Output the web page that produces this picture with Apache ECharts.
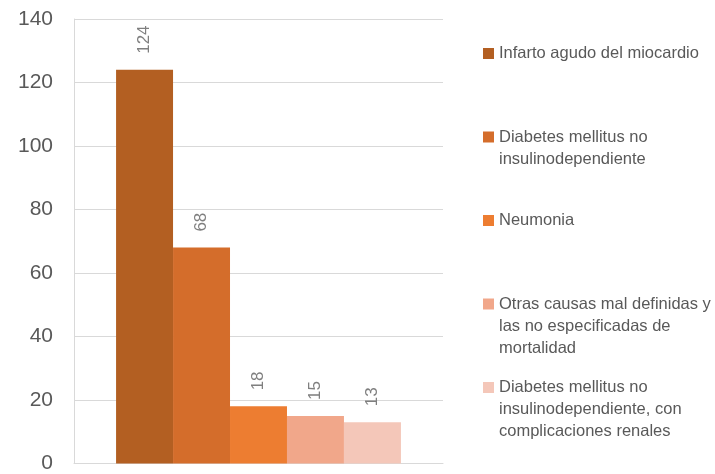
<!DOCTYPE html>
<html>
<head>
<meta charset="utf-8">
<script src="https://cdn.jsdelivr.net/npm/echarts@6/dist/echarts.min.js"></script>
<style>
  html, body { margin: 0; padding: 0; background: #fff; }
  #chart { width: 715px; height: 474px; }
</style>
</head>
<body>
<div id="chart"></div>
<script>
// causas de mortalidad
const seriesNames = [
  "Infarto agudo del miocardio",
  "Diabetes mellitus no insulinodependiente",
  "Neumonia",
  "Otras causas mal definidas y las no especificadas de mortalidad",
  "Diabetes mellitus no insulinodependiente, con complicaciones renales"
];
// texto de la leyenda, con los saltos de linea
const legendLines = [
  ["Infarto agudo del miocardio"],
  ["Diabetes mellitus no", "insulinodependiente"],
  ["Neumonia"],
  ["Otras causas mal definidas y", "las no especificadas de", "mortalidad"],
  ["Diabetes mellitus no", "insulinodependiente, con", "complicaciones renales"]
];
const seriesValues = [124, 68, 18, 15, 13];
const categories = [""];
const yTicks = [0, 20, 40, 60, 80, 100, 120, 140];

const colors = ["#B35F22", "#D46D2B", "#ED7D31", "#F1A78A", "#F4C7B9"];
const font = "Liberation Sans";
const lineH = 22;

const myChart = echarts.init(document.getElementById("chart"));

let series = seriesNames.map((name, i) => ({
  name: name,
  type: "bar",
  barGap: "0%",
  barCategoryGap: "22.8%",
  itemStyle: { color: colors[i] },
  label: {
    show: true,
    position: "top",
    rotate: 90,
    align: "left",
    verticalAlign: "middle",
    distance: 16,
    color: "#7F7F7F",
    fontSize: 17,
    fontFamily: font
  },
  data: [seriesValues[i]]
}));

// una leyenda por serie, repartidas a la misma distancia;
// lineas vacias arriba para que el cuadro quede junto a la primera linea
let legends = seriesNames.map((name, i) => {
  let n = legendLines[i].length;
  let center = 53.5 + i * 83.5;
  return {
    data: [name],
    orient: "vertical",
    left: 483,
    top: center - (2 * n - 1) * lineH / 2,
    padding: 0,
    icon: "rect",
    itemWidth: 11,
    itemHeight: 11,
    selectedMode: false,
    formatter: () => "\n".repeat(n - 1) + legendLines[i].join("\n"),
    textStyle: {
      color: "#595959",
      fontSize: 16.5,
      fontFamily: font,
      lineHeight: lineH
    }
  };
});

let option = {
  animation: false,
  legend: legends,
  grid: { left: 74, right: 272, top: 19, bottom: 8 },
  xAxis: {
    type: "category",
    data: categories,
    axisLine: { show: true, lineStyle: { color: "#D9D9D9", width: 1 } },
    axisTick: { show: false },
    axisLabel: { show: false }
  },
  yAxis: {
    type: "value",
    min: yTicks[0],
    max: yTicks[yTicks.length - 1],
    interval: 20,
    axisLine: { show: true, lineStyle: { color: "#D9D9D9", width: 1 } },
    axisTick: { show: false },
    axisLabel: { color: "#595959", fontSize: 21, fontFamily: font, margin: 21 },
    splitLine: { lineStyle: { color: "#D9D9D9", width: 1 } }
  },
  series: series
};

myChart.setOption(option);
</script>
</body>
</html>
